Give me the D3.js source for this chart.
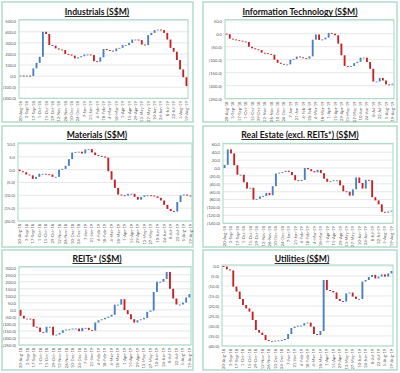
<!DOCTYPE html>
<html><head><meta charset="utf-8">
<script src="https://cdn.jsdelivr.net/npm/d3@7"></script>
<style>html,body{margin:0;padding:0;background:#fff;}svg{display:block;}</style>
</head><body>
<svg id="c" width="400" height="373"></svg>
<script>
const dates = ["20-Aug-18","27-Aug-18","3-Sep-18","10-Sep-18","17-Sep-18","24-Sep-18","1-Oct-18","8-Oct-18","15-Oct-18","22-Oct-18","29-Oct-18","5-Nov-18","12-Nov-18","19-Nov-18","26-Nov-18","3-Dec-18","10-Dec-18","17-Dec-18","24-Dec-18","31-Dec-18","7-Jan-19","14-Jan-19","21-Jan-19","28-Jan-19","4-Feb-19","11-Feb-19","18-Feb-19","25-Feb-19","4-Mar-19","11-Mar-19","18-Mar-19","25-Mar-19","1-Apr-19","8-Apr-19","15-Apr-19","22-Apr-19","29-Apr-19","6-May-19","13-May-19","20-May-19","27-May-19","3-Jun-19","10-Jun-19","17-Jun-19","24-Jun-19","1-Jul-19","8-Jul-19","15-Jul-19","22-Jul-19","29-Jul-19","5-Aug-19","12-Aug-19","19-Aug-19"];
const dateLabels = ["20-Aug-18","3-Sep-18","17-Sep-18","1-Oct-18","15-Oct-18","29-Oct-18","12-Nov-18","26-Nov-18","10-Dec-18","24-Dec-18","7-Jan-19","21-Jan-19","4-Feb-19","18-Feb-19","4-Mar-19","18-Mar-19","1-Apr-19","15-Apr-19","29-Apr-19","13-May-19","27-May-19","10-Jun-19","24-Jun-19","8-Jul-19","22-Jul-19","5-Aug-19","19-Aug-19"];

// cumulative net flows (S$M), week by week
const industrials = [5,3,4,0,70,120,175,400,380,280,275,250,240,235,200,195,185,160,170,180,195,195,190,135,130,170,245,235,230,225,250,255,280,280,300,330,330,325,285,280,370,390,415,420,415,390,330,255,220,145,60,-10,-90];
const infoTech = [-2,-19,-22,-24,-27,-30,-32,-50,-56,-60,-63,-73,-75,-78,-81,-100,-112,-116,-118,-118,-100,-97,-88,-91,-94,-96,-87,-23,-3,-24,-22,-15,3,0,-6,-38,-83,-124,-126,-124,-113,-108,-92,-92,-109,-135,-184,-184,-170,-180,-195,-196,-192];
const materials = [-0.6,-1.0,-1.9,-2.2,-3.6,-2.8,-1.6,-1.6,-1.8,-1.9,-2.8,-2.8,0.0,0.3,1.5,4.1,6.7,6.9,7.0,6.3,7.9,8.0,6.7,5.7,5.4,5.1,4.7,-0.6,-3.9,-7.1,-9.7,-10.0,-10.1,-9.4,-9.4,-10.6,-11.7,-10.6,-10.0,-10.0,-10.1,-10.4,-11.0,-12.0,-13.7,-15.3,-16.1,-16.3,-12.6,-10.0,-9.7,-10.1,-10.3];
const realEstate = [8,47,37,7,-17,-17,-36,-52,-50,-80,-78,-72,-71,-63,-69,-46,-14,-12,-10,-7,-10,-18,-31,-33,-30,0,-3,-8,-11,-5,-13,-27,-35,-33,-31,-31,-44,-59,-60,-70,-54,-24,-38,-52,-30,-31,-74,-82,-92,-111,-113,-110,-108];
const reits = [-42,-62,-62,-64,-120,-126,-157,-162,-120,-120,-181,-176,-164,-145,-140,-138,-133,-133,-152,-128,-128,-143,-148,-90,-74,-67,-57,-48,-35,37,37,76,-2,-31,-67,-90,-74,-67,-57,-14,-5,128,200,200,220,270,150,81,38,38,52,88,112];
const utilities = [-0.3,-1.7,-2.2,-10.3,-12.8,-16.5,-19.5,-21.2,-22.8,-27,-32,-33.3,-34.5,-37,-37.5,-37.5,-37.3,-37.2,-37,-36.5,-34,-31,-30.3,-29.8,-29.8,-28.6,-28.3,-30.3,-34,-34.5,-32.5,-7,-12,-12.5,-13.2,-16.5,-17.5,-17.8,-13.7,-13.3,-15.3,-16.5,-16.5,-7.8,-7,-5.5,-4.5,-6.2,-5.3,-4.2,-5.3,-3.7,-2.5];

const industrialsTicks = [500,400,300,200,100,0,-100,-200];
const infoTechTicks = [50,0,-50,-100,-150,-200,-250];
const materialsTicks = [10,5,0,-5,-10,-15,-20];
const realEstateTicks = [60,40,20,0,-20,-40,-60,-80,-100,-120,-140];
const reitsTicks = [300,250,200,150,100,50,0,-50,-100,-150,-200,-250];
const utilitiesTicks = [0,-5,-10,-15,-20,-25,-30,-35,-40];

const titles = ["Industrials (S$M)","Information Technology (S$M)","Materials (S$M)","Real Estate (excl. REITs*) (S$M)","REITs* (S$M)","Utilities (S$M)"];

const panels = [
  {title:titles[0], values:industrials, ticks:industrialsTicks, frame:[2,2,191,120], plot:[19,188,20.7,98.3], tx:97, ty:15},
  {title:titles[1], values:infoTech, ticks:infoTechTicks, frame:[203,2,194,120], plot:[225,394,20.7,98.7], tx:300, ty:15},
  {title:titles[2], values:materials, ticks:materialsTicks, frame:[2,126,191,121], plot:[18,192,144,221], tx:97, ty:138},
  {title:titles[3], values:realEstate, ticks:realEstateTicks, frame:[203,126,194,121], plot:[223,393,144.3,223.3], tx:300, ty:138},
  {title:titles[4], values:reits, ticks:reitsTicks, frame:[2,250,191,120], plot:[19,191,267.7,345], tx:97, ty:262},
  {title:titles[5], values:utilities, ticks:utilitiesTicks, frame:[203,250,194,120], plot:[222,393,266,346], tx:302, ty:262}
];

const svg = d3.select("#c");
const fmt = v => v < 0 ? "(" + d3.format(".1f")(-v) + ")" : d3.format(".1f")(v);
const UP = "#4a7ebf", DOWN = "#c42127";

panels.forEach(p => {
  const [fx, fy, fw, fh] = p.frame;
  const [x0, x1, yt, yb] = p.plot;
  const g = svg.append("g");
  g.append("rect").attr("x", fx).attr("y", fy).attr("width", fw).attr("height", fh)
    .attr("fill", "#fff").attr("stroke", "#b3dcca").attr("stroke-width", 1.5);

  const x = d3.scaleBand().domain(dates).range([x0, x1]).paddingInner(0.42).paddingOuter(0.2);
  const y = d3.scaleLinear().domain([p.ticks[p.ticks.length - 1], p.ticks[0]]).range([yb, yt]);

  // gridlines
  g.append("g").selectAll("line").data(p.ticks).join("line")
    .attr("x1", x0).attr("x2", x1).attr("y1", d => y(d)).attr("y2", d => y(d))
    .attr("stroke", "#d9d9d9").attr("stroke-width", 0.6);

  // plot border
  g.append("rect").attr("x", x0).attr("y", yt - 1).attr("width", x1 - x0).attr("height", yb - yt + 1)
    .attr("fill", "none").attr("stroke", "#a6d8c2").attr("stroke-width", 1);

  // y axis
  const ya = g.append("g").attr("transform", `translate(${x0 - 2},0)`)
    .call(d3.axisLeft(y).tickValues(p.ticks).tickFormat(fmt).tickSize(0).tickPadding(1));
  ya.select(".domain").remove();
  ya.selectAll("text").attr("font-family", "Lato, 'Liberation Sans', sans-serif").attr("font-size", 4.2).attr("fill", "#555");

  // x axis
  const xa = g.append("g").attr("transform", `translate(0,${yb + 1.5})`)
    .call(d3.axisBottom(x).tickValues(dateLabels).tickSize(0).tickPadding(0));
  xa.select(".domain").remove();
  xa.selectAll("text").attr("font-family", "Lato, 'Liberation Sans', sans-serif").attr("font-size", 4.2).attr("fill", "#555")
    .attr("transform", "rotate(-90)").attr("text-anchor", "end").attr("dx", "-0.3em").attr("dy", "0.35em").attr("y", 0).attr("x", 0);

  // waterfall bars
  const bars = p.values.map((v, i) => ({d: dates[i], prev: i === 0 ? 0 : p.values[i - 1], v}));
  g.append("g").selectAll("rect").data(bars).join("rect")
    .attr("x", d => x(d.d)).attr("width", x.bandwidth())
    .attr("y", d => Math.min(y(d.prev), y(d.v)))
    .attr("height", d => Math.max(0.9, Math.abs(y(d.prev) - y(d.v))))
    .attr("fill", d => d.v >= d.prev ? UP : DOWN);

  // title
  g.append("text").attr("x", p.tx).attr("y", p.ty).attr("text-anchor", "middle")
    .attr("font-family", "Lato, 'Liberation Sans', sans-serif").attr("font-weight", "bold").attr("font-size", 8.6)
    .attr("text-decoration", "underline").attr("fill", "#111").text(p.title);
});
</script>
</body></html>
